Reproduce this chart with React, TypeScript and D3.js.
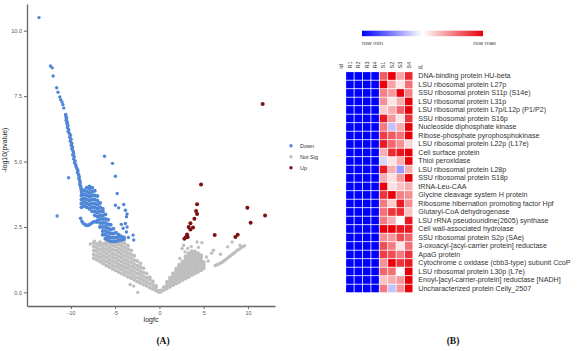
import { useEffect, useRef } from 'react'
import * as d3 from 'd3'

// ---- volcano plot data (logfc, -log10 pvalue) ----
const xTicks = [-10, -5, 0, 5, 10]
const yTicks = [0, 2.5, 5, 7.5, 10]
const legendLabels = ['Down', 'Not Sig', 'Up']

const downSparse: [number, number][] = [
  [-13.6, 10.5], [-12.3, 8.65], [-12.1, 8.58], [-12.0, 8.27], [-11.6, 7.82], [-11.45, 7.65],
  [-11.25, 7.47], [-11.15, 7.36], [-11.0, 7.28], [-10.9, 7.18], [-10.8, 7.05],
  [-10.25, 4.38], [-11.55, 2.92], [-6.2, 5.2], [-5.3, 4.93], [-4.97, 4.44], [-4.77, 3.78],
  [-4.97, 3.33], [-4.6, 3.23], [-4.03, 3.36], [-3.84, 3.14], [-3.65, 3.0], [-3.72, 2.89],
  [-3.84, 2.63], [-3.65, 2.5], [-3.72, 2.31], [-2.97, 2.19], [-2.9, 2.0], [-4.3, 2.6],
  [-4.1, 2.45], [-3.5, 2.1]
]

const downStrip: [number, number][] = [
  [-10.58, 6.8], [-10.55, 6.72], [-10.48, 6.65], [-10.52, 6.58], [-10.4, 6.5], [-10.45, 6.45],
  [-10.33, 6.38], [-10.38, 6.3], [-10.25, 6.22], [-10.3, 6.15], [-10.18, 6.08], [-10.05, 6.0],
  [-10.12, 5.93], [-9.98, 5.85], [-10.05, 5.78], [-9.9, 5.7], [-9.95, 5.62], [-9.82, 5.55],
  [-9.88, 5.48], [-9.75, 5.4], [-9.7, 5.32], [-9.78, 5.25], [-9.62, 5.18], [-9.68, 5.1],
  [-9.52, 5.02], [-9.58, 4.95], [-9.45, 4.88], [-9.4, 4.8], [-9.3, 4.72], [-9.2, 4.65],
  [-9.25, 4.58], [-9.12, 4.5], [-9.05, 4.42], [-9.1, 4.35], [-9.0, 4.28], [-8.95, 4.2],
  [-8.98, 4.12], [-8.9, 4.05], [-8.85, 3.98], [-8.82, 3.9], [-8.78, 3.82],
  [-8.9, 2.83], [-8.75, 2.72], [-8.6, 2.64], [-8.45, 2.6], [-8.3, 2.57], [-8.15, 2.56],
  [-8.0, 2.57], [-7.85, 2.6], [-7.7, 2.63], [-7.55, 2.67], [-7.4, 2.7], [-7.25, 2.7], [-7.1, 2.68]
]

const downSlices: [number, number[]][] = [
  [-8.8, [3.25, 3.4, 3.55, 3.7]],
  [-8.5, [3.3, 3.45, 3.6, 3.75, 3.9]],
  [-8.2, [3.25, 3.4, 3.55, 3.7, 3.85, 4.0]],
  [-7.9, [3.2, 3.35, 3.5, 3.65, 3.8, 3.95, 4.05]],
  [-7.6, [3.1, 3.25, 3.4, 3.55, 3.7, 3.85, 4.0]],
  [-7.3, [2.95, 3.1, 3.25, 3.4, 3.55, 3.7, 3.88]],
  [-7.0, [2.75, 2.9, 3.05, 3.2, 3.35, 3.5, 3.68]],
  [-6.7, [2.5, 2.65, 2.8, 2.95, 3.1, 3.25, 3.42]],
  [-6.4, [2.2, 2.35, 2.5, 2.65, 2.8, 2.95, 3.1, 3.2]],
  [-6.1, [2.05, 2.2, 2.35, 2.5, 2.65, 2.8, 2.98]],
  [-5.8, [2.0, 2.15, 2.3, 2.45, 2.6, 2.78]],
  [-5.5, [1.95, 2.1, 2.25, 2.4, 2.58]],
  [-5.2, [1.95, 2.1, 2.25, 2.43]],
  [-4.9, [1.95, 2.1, 2.28]],
  [-4.6, [1.98, 2.12, 2.2]],
  [-4.3, [2.0, 2.14]],
  [-4.0, [2.02, 2.1]]
]

const notSigSlices: [number, number[]][] = [
  [-7.4, [1.3, 1.45, 1.6, 1.75, 1.9]],
  [-7.05, [1.25, 1.4, 1.55, 1.7, 1.85]],
  [-6.7, [1.18, 1.33, 1.48, 1.63, 1.78, 1.92]],
  [-6.35, [1.1, 1.25, 1.4, 1.55, 1.7, 1.85]],
  [-6.0, [1.03, 1.18, 1.33, 1.48, 1.63, 1.78, 1.92]],
  [-5.65, [0.97, 1.12, 1.27, 1.42, 1.57, 1.72, 1.87]],
  [-5.3, [0.9, 1.05, 1.2, 1.35, 1.5, 1.65, 1.8, 1.93]],
  [-4.95, [0.85, 1.0, 1.15, 1.3, 1.45, 1.6, 1.75, 1.9]],
  [-4.6, [0.78, 0.93, 1.08, 1.23, 1.38, 1.53, 1.68, 1.83, 1.95]],
  [-4.25, [0.72, 0.87, 1.02, 1.17, 1.32, 1.47, 1.62, 1.77, 1.92]],
  [-3.9, [0.66, 0.81, 0.96, 1.11, 1.26, 1.41, 1.56, 1.71, 1.86]],
  [-3.55, [0.6, 0.75, 0.9, 1.05, 1.2, 1.35, 1.5, 1.65, 1.78]],
  [-3.2, [0.55, 0.7, 0.85, 1.0, 1.15, 1.3, 1.45, 1.6]],
  [-2.85, [0.48, 0.63, 0.78, 0.93, 1.08, 1.23, 1.4]],
  [-2.5, [0.42, 0.57, 0.72, 0.87, 1.02, 1.2]],
  [-2.15, [0.36, 0.51, 0.66, 0.81, 0.96, 1.1]],
  [-1.8, [0.3, 0.45, 0.6, 0.75, 0.92]],
  [-1.45, [0.25, 0.4, 0.55, 0.72]],
  [-1.1, [0.19, 0.34, 0.5, 0.58]],
  [-0.75, [0.13, 0.28, 0.42]],
  [-0.4, [0.07, 0.2, 0.25]],
  [-0.1, [0.02, 0.06]],
  [0.15, [0.02, 0.07]],
  [0.5, [0.09, 0.2]],
  [0.85, [0.15, 0.27, 0.4]],
  [1.2, [0.22, 0.34, 0.46, 0.56]],
  [1.55, [0.28, 0.4, 0.52, 0.64, 0.72]],
  [1.9, [0.34, 0.46, 0.58, 0.7, 0.82, 0.9]],
  [2.25, [0.4, 0.52, 0.64, 0.76, 0.88, 1.0, 1.06]],
  [2.6, [0.47, 0.59, 0.71, 0.83, 0.95, 1.07, 1.18]],
  [2.95, [0.53, 0.65, 0.77, 0.89, 1.01, 1.13, 1.25, 1.37]],
  [3.3, [0.59, 0.71, 0.83, 0.95, 1.07, 1.19, 1.31, 1.43, 1.5]],
  [3.65, [0.66, 0.78, 0.9, 1.02, 1.14, 1.26, 1.38, 1.5, 1.57]],
  [4.0, [0.72, 0.84, 0.96, 1.08, 1.2, 1.32, 1.44, 1.56]],
  [4.35, [0.78, 0.9, 1.02, 1.14, 1.26, 1.38, 1.5]],
  [4.7, [0.85, 0.97, 1.09, 1.21, 1.33, 1.42]],
  [5.0, [0.92, 1.04, 1.15]]
]

const notSigSparse: [number, number][] = [
  [-2.9, 0.24], [-2.45, 0.0], [-3.3, 0.3], [-7.34, 1.96], [-7.8, 1.85],
  [2.56, 1.68], [2.74, 1.8], [4.25, 1.93], [4.8, 1.9], [2.9, 1.55], [3.6, 1.75], [4.4, 1.72],
  [3.2, 1.68], [2.3, 1.3], [5.3, 1.35], [5.5, 1.2], [6.1, 1.61], [6.9, 1.46], [7.7, 1.74],
  [8.2, 1.93], [9.1, 1.8], [5.9, 1.5],
  [6.3, 1.03], [6.45, 1.05], [6.6, 1.07], [6.75, 1.09], [6.9, 1.12], [7.05, 1.15], [7.2, 1.18],
  [7.35, 1.22], [7.5, 1.26], [7.65, 1.3], [7.8, 1.34], [7.95, 1.38], [8.1, 1.42], [8.25, 1.46],
  [8.4, 1.5], [8.55, 1.54], [8.7, 1.58], [8.85, 1.62], [9.0, 1.65], [9.2, 1.7], [9.4, 1.74], [9.6, 1.78]
]

const upPoints: [number, number][] = [
  [4.7, 4.12], [4.25, 3.37], [4.14, 3.11], [4.25, 3.0], [3.95, 2.81], [3.5, 2.64], [3.3, 2.5],
  [3.8, 2.48], [3.5, 2.4], [3.12, 2.21], [2.97, 2.11], [3.2, 2.12], [2.82, 2.05], [6.24, 2.19],
  [8.58, 2.12], [8.84, 2.2], [9.93, 3.23], [10.3, 2.66], [11.93, 2.94], [11.66, 7.2]
]

// ---- heatmap data ----
const sampleCols = ['R1', 'R2', 'R3', 'R4', 'S1', 'S2', 'S3', 'S4']
const proteins = [
  'DNA-binding protein HU-beta',
  'LSU ribosomal protein L27p',
  'SSU ribosomal protein S11p (S14e)',
  'LSU ribosomal protein L31p',
  'LSU ribosomal protein L7p/L12p (P1/P2)',
  'SSU ribosomal protein S16p',
  'Nucleoside diphosphate kinase',
  'Ribose-phosphate pyrophosphokinase',
  'LSU ribosomal protein L22p (L17e)',
  'Cell surface protein',
  'Thiol peroxidase',
  'LSU ribosomal protein L28p',
  'SSU ribosomal protein S18p',
  'tRNA-Leu-CAA',
  'Glycine cleavage system H protein',
  'Ribosome hibernation promoting factor Hpf',
  'Glutaryl-CoA dehydrogenase',
  'LSU rRNA pseudouridine(2605) synthase',
  'Cell wall-associated hydrolase',
  'SSU ribosomal protein S2p (SAe)',
  '3-oxoacyl-[acyl-carrier protein] reductase',
  'ApaG protein',
  'Cytochrome c oxidase (cbb3-type) subunit CcoP',
  'LSU ribosomal protein L30p (L7e)',
  'Enoyl-[acyl-carrier-protein] reductase [NADH]',
  'Uncharacterized protein Celly_2507'
]
// row-scaled values (0 = row min, 1 = row max), R1..R4 then S1..S4
const heatValues = [
  [0, 0, 0, 0, 0.82, 1.0, 0.68, 0.92],
  [0, 0, 0, 0, 1.0, 0.68, 0.55, 0.78],
  [0, 0, 0, 0, 0.75, 0.7, 1.0, 0.75],
  [0, 0, 0, 0, 0.72, 0.55, 0.66, 1.0],
  [0, 0, 0, 0, 0.6, 0.66, 0.8, 1.0],
  [0, 0, 0, 0, 0.95, 0.7, 0.55, 0.9],
  [0, 0, 0, 0, 0.76, 0.38, 0.66, 1.0],
  [0, 0, 0, 0, 0.88, 0.82, 0.78, 1.0],
  [0, 0, 0, 0, 0.95, 0.8, 0.72, 0.58],
  [0, 0, 0, 0, 0.66, 0.92, 0.96, 1.0],
  [0, 0, 0, 0, 0.42, 0.55, 0.66, 1.0],
  [0, 0, 0, 0, 0.95, 0.66, 0.3, 0.66],
  [0, 0, 0, 0, 0.66, 0.56, 0.7, 1.0],
  [0, 0, 0, 0, 1.0, 0.56, 0.62, 0.66],
  [0, 0, 0, 0, 0.9, 1.0, 0.75, 0.72],
  [0, 0, 0, 0, 0.76, 0.6, 0.95, 0.72],
  [0, 0, 0, 0, 0.78, 0.9, 0.92, 0.62],
  [0, 0, 0, 0, 0.76, 0.66, 0.5, 0.95],
  [0, 0, 0, 0, 1.0, 1.0, 0.95, 0.95],
  [0, 0, 0, 0, 0.72, 0.7, 0.85, 0.8],
  [0, 0, 0, 0, 0.85, 0.76, 0.55, 0.78],
  [0, 0, 0, 0, 0.88, 0.85, 0.76, 0.9],
  [0, 0, 0, 0, 0.72, 1.0, 0.9, 0.95],
  [0, 0, 0, 0, 0.8, 0.78, 0.5, 1.0],
  [0, 0, 0, 0, 0.62, 0.66, 0.7, 1.0],
  [0, 0, 0, 0, 0.76, 0.38, 0.7, 1.0]
]

const SANS = '"Liberation Sans", Arial, sans-serif'
const SERIF = '"Liberation Serif", "Times New Roman", serif'

const flatten = (slices: [number, number[]][]) =>
  slices.flatMap(([x, ys]) => ys.map(y => [x, y] as [number, number]))

export default function App() {
  const svgRef = useRef<SVGSVGElement>(null)

  useEffect(() => {
    const svg = d3.select(svgRef.current)
    svg.selectAll('*').remove()

    // ---------- (A) volcano ----------
    const x = d3.scaleLinear().domain([-14.95, 13.05]).range([27, 275])
    const y = d3.scaleLinear().domain([-0.52, 11.02]).range([306, 4])

    const colors: Record<string, string> = { Down: '#4f86d6', 'Not Sig': '#bebebe', Up: '#7e1014' }

    const xAxis = svg.append('g')
      .attr('transform', 'translate(0,306)')
      .call(d3.axisBottom(x).tickValues(xTicks).tickSize(3).tickSizeOuter(0).tickPadding(2).tickFormat(d => String(d)))
    const yAxis = svg.append('g')
      .attr('transform', 'translate(27,0)')
      .call(d3.axisLeft(y).tickValues(yTicks).tickSize(3).tickSizeOuter(0).tickPadding(2).tickFormat(d3.format('.1f')))
    ;[xAxis, yAxis].forEach(g => {
      g.select('.domain').attr('stroke', '#666').attr('stroke-width', 1.3)
      g.selectAll('.tick line').attr('stroke', '#666')
      g.selectAll('.tick text').attr('fill', '#5a5a5a').style('font-size', '5.5px').style('font-family', SANS)
    })

    const pts = svg.append('g')
    const drawPts = (data: [number, number][], color: string, r: number) => {
      pts.selectAll(null)
        .data(data)
        .enter().append('circle')
        .attr('cx', d => x(d[0]))
        .attr('cy', d => y(d[1]))
        .attr('r', r)
        .attr('fill', color)
    }
    drawPts(flatten(notSigSlices), colors['Not Sig'], 2.0)
    drawPts(notSigSparse, colors['Not Sig'], 1.7)
    drawPts(flatten(downSlices), colors.Down, 2.0)
    drawPts(downStrip, colors.Down, 1.8)
    drawPts(downSparse, colors.Down, 1.7)
    drawPts(upPoints, colors.Up, 2.0)

    svg.append('text')
      .attr('x', 151).attr('y', 322)
      .attr('text-anchor', 'middle')
      .style('font-size', '7px').style('font-family', SANS).attr('fill', '#222')
      .text('logfc')
    svg.append('text')
      .attr('transform', 'translate(7,150) rotate(-90)')
      .attr('text-anchor', 'middle')
      .style('font-size', '7px').style('font-family', SANS).attr('fill', '#222')
      .text('-log10(pvalue)')

    const legend = svg.append('g')
    legendLabels.forEach((lab, i) => {
      legend.append('circle').attr('cx', 291).attr('cy', 145.7 + i * 11).attr('r', 1.7).attr('fill', colors[lab])
      legend.append('text')
        .attr('x', 300).attr('y', 145.7 + i * 11).attr('dy', '0.35em')
        .style('font-size', '5.5px').style('font-family', SANS).attr('fill', '#333')
        .text(lab)
    })

    // ---------- (B) heatmap ----------
    const color = d3.scaleLinear<string>().domain([0, 0.5, 1]).range(['#0000ff', '#ffffff', '#e8000a'])
    const cx = d3.scaleBand().domain(sampleCols).range([345.7, 412.9])
    const cy = d3.scaleBand().domain(proteins).range([71.7, 292.7])

    const grad = svg.append('defs').append('linearGradient').attr('id', 'rowgrad')
    ;[0, 0.5, 1].forEach(t => grad.append('stop').attr('offset', `${t * 100}%`).attr('stop-color', color(t)))
    svg.append('rect').attr('x', 362).attr('y', 30.7).attr('width', 121).attr('height', 5.5).attr('fill', 'url(#rowgrad)')
    svg.append('text').attr('x', 362).attr('y', 44.5)
      .style('font-size', '6px').style('font-family', SANS).attr('fill', '#444').text('row min')
    svg.append('text').attr('x', 496).attr('y', 44.5).attr('text-anchor', 'end')
      .style('font-size', '6px').style('font-family', SANS).attr('fill', '#444').text('row max')

    const cells = proteins.flatMap((p, i) => sampleCols.map((c, j) => ({ p, c, v: heatValues[i][j] })))
    svg.append('g').selectAll('rect')
      .data(cells)
      .enter().append('rect')
      .attr('x', d => cx(d.c)! + 0.4)
      .attr('y', d => cy(d.p)! + 0.4)
      .attr('width', cx.bandwidth() - 0.8)
      .attr('height', cy.bandwidth() - 0.8)
      .attr('fill', d => color(d.v))

    const headers = ['id', ...sampleCols]
    headers.forEach((h, i) => {
      const hx = i === 0 ? 345.7 - cx.bandwidth() / 2 : cx(h)! + cx.bandwidth() / 2
      svg.append('text')
        .attr('transform', `translate(${hx + 1.8},68.5) rotate(-90)`)
        .style('font-size', '5.5px').style('font-family', SANS).attr('fill', '#333')
        .text(h)
    })
    svg.append('text').attr('x', 418.3).attr('y', 68.5)
      .style('font-size', '5.5px').style('font-family', SANS).attr('fill', '#333').text('id')

    svg.append('g').selectAll('text')
      .data(proteins)
      .enter().append('text')
      .attr('x', 418.3)
      .attr('y', d => cy(d)! + cy.bandwidth() / 2)
      .attr('dy', '0.35em')
      .style('font-size', '7.1px').style('font-family', SANS).attr('fill', '#333')
      .text(d => d)

    // panel labels
    ;[['(A)', 163], ['(B)', 453]].forEach(([t, px]) => {
      svg.append('text').attr('x', px as number).attr('y', 344)
        .attr('text-anchor', 'middle')
        .style('font-size', '9.5px').style('font-family', SERIF).style('font-weight', 'bold').attr('fill', '#111')
        .text(t as string)
    })
  }, [])

  return (
    <svg ref={svgRef} width={583} height={351}
      style={{ position: 'absolute', left: 0, top: 0, background: '#fff' }} />
  )
}
